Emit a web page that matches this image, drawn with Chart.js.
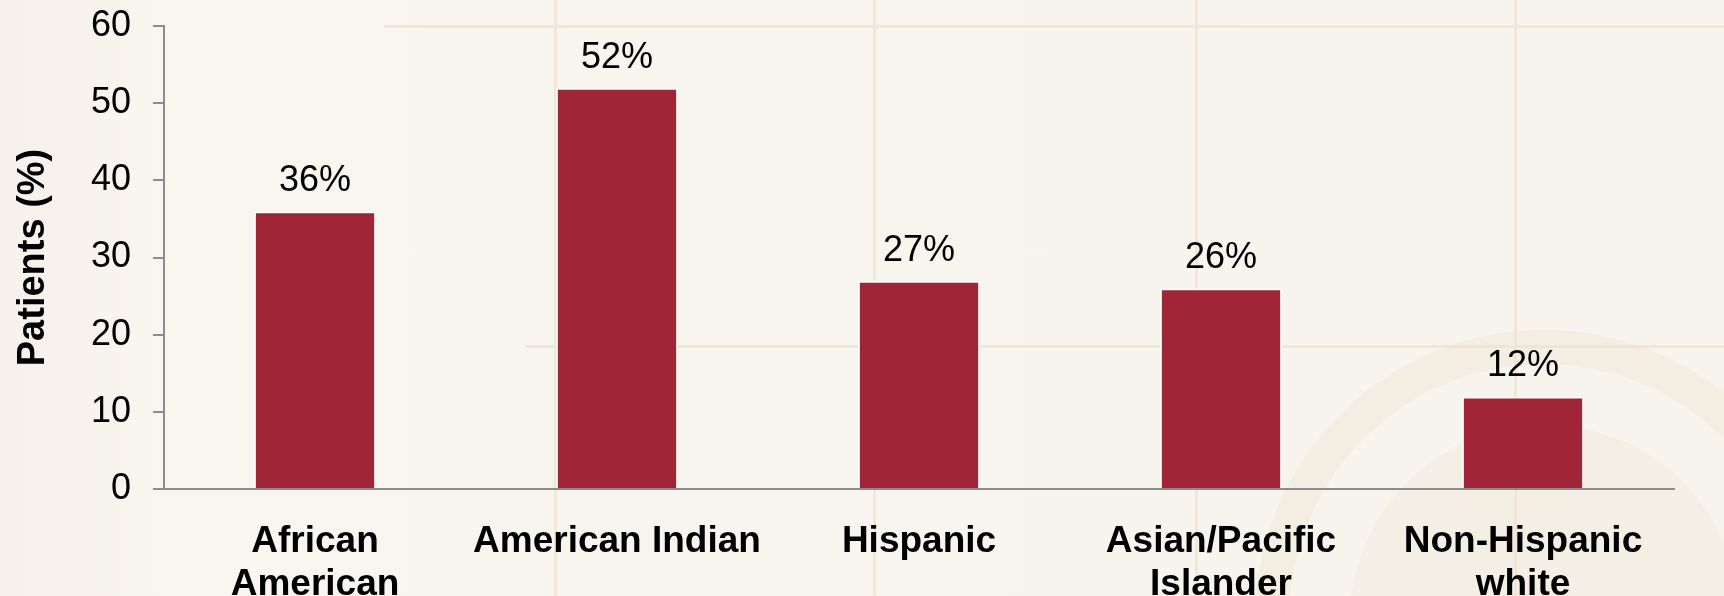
<!DOCTYPE html>
<html>
<head>
<meta charset="utf-8">
<script src="https://cdn.jsdelivr.net/npm/chart.js@4/dist/chart.umd.min.js"></script>
<style>
  html, body { margin: 0; padding: 0; }
  body { width: 1724px; height: 596px; overflow: hidden; position: relative;
         background: linear-gradient(90deg, #f6f1ea 0px, #f9f6f0 200px, #f8f5ee 500px, #f7f4ed 1724px); }
  .hl { position: absolute; height: 3px; background: #f0e8d7; }
  .vl { position: absolute; width: 3px; background: #f0e8d7; }
  .seal { position: absolute; border-radius: 50%; border: 34px solid rgba(234,225,205,0.35); }
  .seal2 { position: absolute; border-radius: 50%; background: rgba(238,230,212,0.35); }
  #wrap { position: absolute; left: 0; top: 0; width: 1724px; height: 596px; }
</style>
</head>
<body>
<div class="hl" style="left:384px; top:25px; width:1340px;"></div>
<div class="hl" style="left:525px; top:345px; width:1199px;"></div>
<div class="vl" style="left:554px; top:0; height:596px;"></div>
<div class="vl" style="left:873px; top:0; height:596px;"></div>
<div class="vl" style="left:1195px; top:0; height:596px;"></div>
<div class="vl" style="left:1514px; top:0; height:596px;"></div>
<div class="seal" style="left:1255px; top:330px; width:510px; height:510px;"></div>
<div class="seal2" style="left:1350px; top:425px; width:390px; height:390px;"></div>
<div id="wrap"><canvas id="c" width="1724" height="596"></canvas></div>
<script>
const categories = [["African", "American"], "American Indian", "Hispanic", ["Asian/Pacific", "Islander"], ["Non-Hispanic", "white"]];
const patientsPct = [36, 52, 27, 26, 12];
const yTicks = [0, 10, 20, 30, 40, 50, 60];

const FONT = "'Liberation Sans', Arial, Helvetica, sans-serif";

const valueLabels = {
  id: 'valueLabels',
  afterDatasetsDraw(chart) {
    const ctx = chart.ctx;
    const meta = chart.getDatasetMeta(0);
    ctx.save();
    ctx.font = "36px " + FONT;
    ctx.fillStyle = '#000';
    ctx.textAlign = 'center';
    ctx.textBaseline = 'alphabetic';
    meta.data.forEach((bar, i) => {
      ctx.fillText(patientsPct[i] + '%', bar.x, bar.y - 20);
    });
    ctx.restore();
  }
};

new Chart(document.getElementById('c'), {
  type: 'bar',
  data: {
    labels: categories,
    datasets: [{
      data: patientsPct,
      backgroundColor: '#a02637',
      borderColor: 'rgba(255,255,255,0.85)',
      borderWidth: 2,
      borderSkipped: 'bottom',
      barPercentage: 0.405,
      categoryPercentage: 1.0
    }]
  },
  options: {
    responsive: false,
    animation: false,
    devicePixelRatio: 1,
    layout: { padding: { left: 0, right: 50, top: 26, bottom: 0 } },
    plugins: { legend: { display: false }, tooltip: { enabled: false } },
    scales: {
      x: {
        grid: { display: false },
        border: { display: true, color: '#8c8c8c', width: 2 },
        ticks: {
          color: '#000',
          padding: 23,
          maxRotation: 0,
          autoSkip: false,
          font: { family: FONT, size: 37, weight: 'bold', lineHeight: 1.17 }
        },
        afterFit(scale) { scale.height = 107; scale.paddingLeft = 0; scale.paddingRight = 0; }
      },
      y: {
        min: 0, max: 60,
        afterBuildTicks(scale) { scale.ticks = yTicks.map(v => ({ value: v })); },
        grid: { display: true, drawOnChartArea: false, drawTicks: true, tickLength: 11, color: '#8c8c8c', lineWidth: 2 },
        border: { display: true, color: '#8c8c8c', width: 2 },
        ticks: {
          color: '#000',
          padding: 22,
          font: { family: FONT, size: 36, lineHeight: 1.2 }
        },
        title: {
          display: true,
          text: 'Patients (%)',
          color: '#000',
          padding: { top: 11, bottom: 0 },
          font: { family: FONT, size: 38, weight: 'bold', lineHeight: 1.2 }
        },
        afterFit(scale) { scale.width = 164; scale.paddingTop = 0; scale.paddingBottom = 0; }
      }
    }
  },
  plugins: [valueLabels]
});
</script>
</body>
</html>
